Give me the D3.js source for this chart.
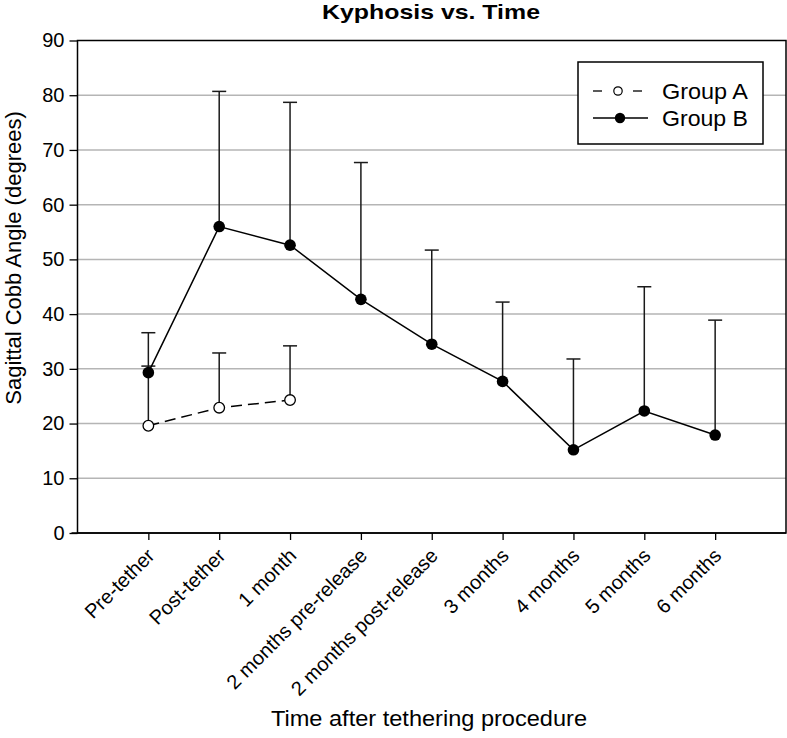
<!DOCTYPE html>
<html>
<head>
<meta charset="utf-8">
<script src="https://cdn.jsdelivr.net/npm/d3@7"></script>
<style>
  html, body { margin: 0; padding: 0; background: #fff; }
  svg { display: block; }
  text { font-family: "Liberation Sans", Arial, sans-serif; fill: #000; }
</style>
</head>
<body>
<script>
// ---- data ----
const categories = ["Pre-tether", "Post-tether", "1 month", "2 months pre-release",
  "2 months post-release", "3 months", "4 months", "5 months", "6 months"];
const groupAMean = [19.6, 22.9, 24.3];
const groupAUpper = [30.5, 32.9, 34.2];
const groupBMean = [29.3, 56.0, 52.6, 42.7, 34.5, 27.7, 15.2, 22.3, 17.9];
const groupBUpper = [36.6, 80.7, 78.7, 67.7, 51.7, 42.2, 31.8, 45.0, 38.9];
const yTicks = [0, 10, 20, 30, 40, 50, 60, 70, 80, 90];
const seriesNames = ["Group A", "Group B"];

// ---- layout ----
const W = 787, H = 738;
const mLeft = 77.5, mRight = 786, mTop = 40.5, mBottom = 533;

const svg = d3.select("body").append("svg").attr("width", W).attr("height", H);

const x = d3.scaleLinear().domain([0, categories.length + 1]).range([mLeft, mRight]);
const y = d3.scaleLinear().domain([0, 90]).range([mBottom, mTop]);

// gridlines
svg.append("g").selectAll("line").data(yTicks.filter(d => d > 0 && d < 90)).join("line")
  .attr("x1", mLeft).attr("x2", mRight)
  .attr("y1", d => y(d)).attr("y2", d => y(d))
  .attr("stroke", "#b5b5b5").attr("stroke-width", 1.5);

// frame
svg.append("rect").attr("x", mLeft).attr("y", mTop)
  .attr("width", mRight - mLeft).attr("height", mBottom - mTop)
  .attr("fill", "none").attr("stroke", "#000").attr("stroke-width", 1.5);

// y axis
const yAxis = svg.append("g").attr("transform", `translate(${mLeft},0)`)
  .call(d3.axisLeft(y).tickValues(yTicks).tickSize(8).tickPadding(5));
yAxis.select(".domain").remove();
yAxis.selectAll(".tick line").attr("stroke", "#000").attr("stroke-width", 1.3);
yAxis.selectAll(".tick text").attr("font-size", 20).attr("font-family", "Liberation Sans, Arial, sans-serif");

// x axis
const xAxis = svg.append("g").attr("transform", `translate(0,${mBottom})`)
  .call(d3.axisBottom(x).tickValues(d3.range(1, categories.length + 1))
    .tickFormat(i => categories[i - 1]).tickSize(7).tickSizeOuter(0));
xAxis.select(".domain").attr("d", `M${mLeft - 6},0H${mRight}`).attr("stroke", "#000").attr("stroke-width", 1.5);
xAxis.selectAll(".tick line").attr("stroke", "#000").attr("stroke-width", 1.3);
xAxis.selectAll(".tick text")
  .attr("font-size", 20).attr("font-family", "Liberation Sans, Arial, sans-serif")
  .attr("text-anchor", "end")
  .attr("dy", "0.35em")
  .attr("transform", "translate(2,19) rotate(-45)")
  .attr("x", 0).attr("y", 0);

// error bars (upper only)
function errorBars(means, uppers) {
  const g = svg.append("g");
  means.forEach((m, i) => {
    const cx = x(i + 1);
    g.append("line").attr("x1", cx).attr("x2", cx).attr("y1", y(m)).attr("y2", y(uppers[i]))
      .attr("stroke", "#1a1a1a").attr("stroke-width", 1.5);
    g.append("line").attr("x1", cx - 7).attr("x2", cx + 7).attr("y1", y(uppers[i])).attr("y2", y(uppers[i]))
      .attr("stroke", "#1a1a1a").attr("stroke-width", 1.5);
  });
}
errorBars(groupBMean, groupBUpper);
errorBars(groupAMean, groupAUpper);

const line = d3.line().x((d, i) => x(i + 1)).y(d => y(d));

// Group B
svg.append("path").datum(groupBMean).attr("d", line)
  .attr("fill", "none").attr("stroke", "#000").attr("stroke-width", 1.5);
svg.append("g").selectAll("circle").data(groupBMean).join("circle")
  .attr("cx", (d, i) => x(i + 1)).attr("cy", d => y(d)).attr("r", 5.8).attr("fill", "#000");

// Group A
svg.append("path").datum(groupAMean).attr("d", line)
  .attr("fill", "none").attr("stroke", "#000").attr("stroke-width", 1.5)
  .attr("stroke-dasharray", "11,6");
svg.append("g").selectAll("circle").data(groupAMean).join("circle")
  .attr("cx", (d, i) => x(i + 1)).attr("cy", d => y(d)).attr("r", 5.3)
  .attr("fill", "#fff").attr("stroke", "#000").attr("stroke-width", 1.3);

// legend
const lg = svg.append("g");
lg.append("rect").attr("x", 578).attr("y", 62).attr("width", 185).attr("height", 82)
  .attr("fill", "#fff").attr("stroke", "#000").attr("stroke-width", 1.5);
const rowY = [91, 118];
lg.append("line").attr("x1", 593).attr("x2", 602).attr("y1", rowY[0]).attr("y2", rowY[0]).attr("stroke", "#000").attr("stroke-width", 1.3);
lg.append("line").attr("x1", 633).attr("x2", 642).attr("y1", rowY[0]).attr("y2", rowY[0]).attr("stroke", "#000").attr("stroke-width", 1.3);
lg.append("circle").attr("cx", 618).attr("cy", rowY[0]).attr("r", 4.2).attr("fill", "#fff").attr("stroke", "#000").attr("stroke-width", 1.2);
lg.append("line").attr("x1", 593).attr("x2", 648).attr("y1", rowY[1]).attr("y2", rowY[1]).attr("stroke", "#000").attr("stroke-width", 1.5);
lg.append("circle").attr("cx", 620).attr("cy", rowY[1]).attr("r", 5.2).attr("fill", "#000");
lg.selectAll("text.lt").data(seriesNames).join("text").attr("class", "lt")
  .attr("x", 662).attr("y", (d, i) => rowY[i]).attr("dy", "0.36em")
  .attr("font-size", 21.5).attr("textLength", 86).attr("lengthAdjust", "spacingAndGlyphs")
  .text(d => d);

// titles
svg.append("text").attr("x", 431).attr("y", 19).attr("text-anchor", "middle")
  .attr("font-size", 21).attr("font-weight", "bold")
  .attr("textLength", 218).attr("lengthAdjust", "spacingAndGlyphs")
  .text("Kyphosis vs. Time");
svg.append("text").attr("transform", "translate(21,258) rotate(-90)").attr("text-anchor", "middle")
  .attr("font-size", 22).text("Sagittal Cobb Angle (degrees)");
svg.append("text").attr("x", 429).attr("y", 726).attr("text-anchor", "middle")
  .attr("font-size", 22.5).attr("textLength", 316).attr("lengthAdjust", "spacingAndGlyphs")
  .text("Time after tethering procedure");
</script>
</body>
</html>
